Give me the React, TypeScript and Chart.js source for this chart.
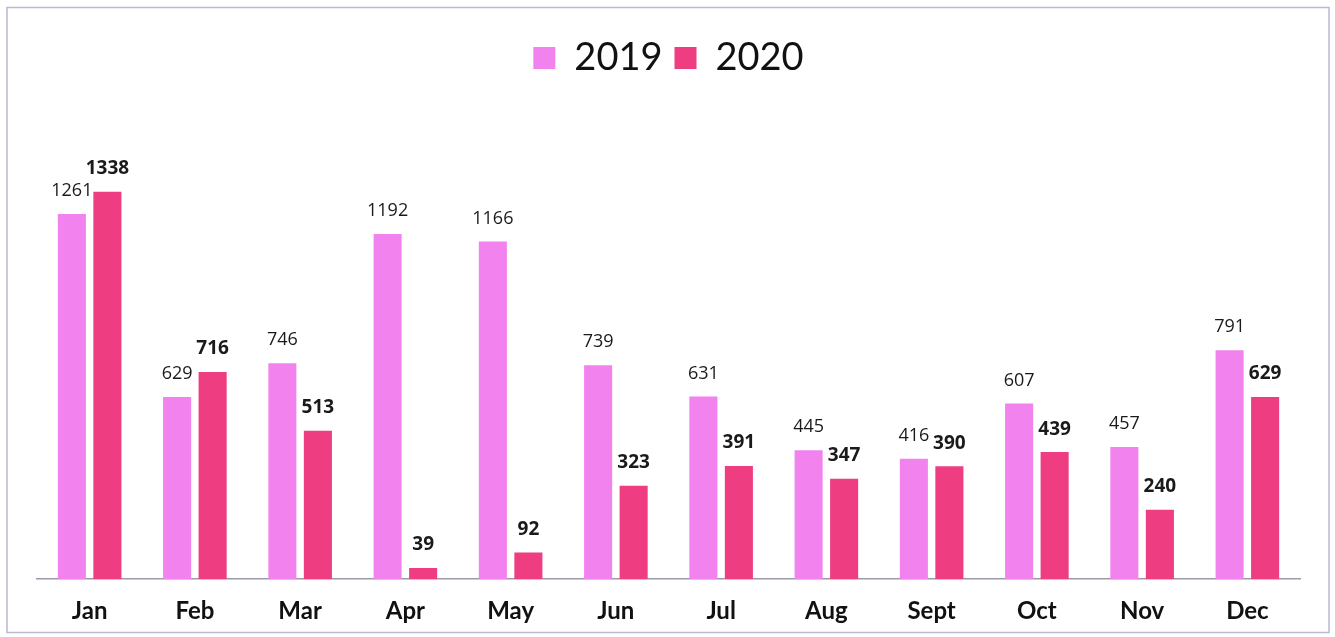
import React, { useEffect, useRef } from "react";
import { Chart, registerables } from "chart.js";

Chart.register(...registerables);

const months = ["Jan", "Feb", "Mar", "Apr", "May", "Jun", "Jul", "Aug", "Sept", "Oct", "Nov", "Dec"];
const values2019 = [1261, 629, 746, 1192, 1166, 739, 631, 445, 416, 607, 457, 791];
const values2020 = [1338, 716, 513, 39, 92, 323, 391, 347, 390, 439, 240, 629];
const seriesNames = ["2019", "2020"];
const seriesColors = ["#f283ee", "#ee3d80"];

const frame = {
  id: "frame",
  beforeDraw(chart: any) {
    const ctx = chart.ctx;
    ctx.save();
    ctx.fillStyle = "#ffffff";
    ctx.fillRect(0, 0, chart.width, chart.height);
    ctx.strokeStyle = "#b9b9d2";
    ctx.lineWidth = 1.5;
    ctx.strokeRect(7, 7.5, 1322, 625);
    ctx.restore();
  },
};

const valueLabels = {
  id: "valueLabels",
  afterDatasetsDraw(chart: any) {
    const ctx = chart.ctx;
    ctx.save();
    ctx.textAlign = "center";
    ctx.textBaseline = "middle";
    ctx.fillStyle = "#1a1a1a";
    chart.data.datasets.forEach((ds: any, di: number) => {
      const meta = chart.getDatasetMeta(di);
      ctx.font = di === 0 ? "400 18px 'Open Sans'" : "700 19px 'Open Sans'";
      meta.data.forEach((bar: any, i: number) => {
        ctx.fillText(String(ds.data[i]), bar.x, bar.y - 23);
      });
    });
    ctx.restore();
  },
};

export default function App() {
  const ref = useRef<HTMLCanvasElement | null>(null);
  useEffect(() => {
    document.body.style.margin = "0";
    const chart = new Chart(ref.current as HTMLCanvasElement, {
      type: "bar",
      data: {
        labels: months,
        datasets: [
          { label: seriesNames[0], data: values2019, backgroundColor: seriesColors[0], categoryPercentage: 0.675, barPercentage: 0.79 },
          { label: seriesNames[1], data: values2020, backgroundColor: seriesColors[1], categoryPercentage: 0.675, barPercentage: 0.79 },
        ],
      },
      options: {
        animation: false,
        responsive: false,
        maintainAspectRatio: false,
        layout: { padding: { left: 37, right: 35, top: 27, bottom: -7 } },
        plugins: {
          legend: {
            display: true,
            position: "top",
            labels: {
              boxWidth: 22,
              boxHeight: 22,
              padding: 12,
              color: "#111111",
              font: { family: "Lato", size: 38 },
            },
          },
          tooltip: { enabled: false },
        },
        scales: {
          x: {
            grid: { display: false, drawTicks: false },
            border: { display: true, color: "#9a9aa8", width: 1.5 },
            ticks: {
              color: "#111111",
              padding: 18,
              font: { family: "Lato", size: 24, weight: "bold" },
            },
          },
          y: {
            display: false,
            min: 0,
            max: 1700,
          },
        },
      },
      plugins: [frame, valueLabels],
    });
    return () => chart.destroy();
  }, []);
  return (
    <div style={{ width: 1335, height: 637 }}>
      <canvas ref={ref} width={1335} height={637} style={{ display: "block" }} />
    </div>
  );
}
